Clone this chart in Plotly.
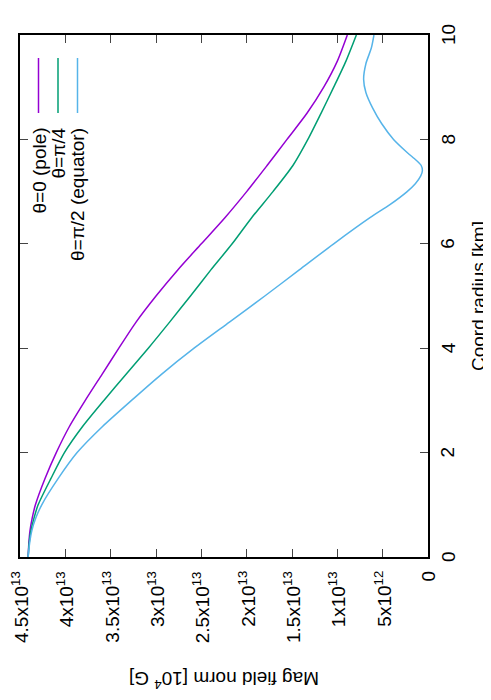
import plotly.graph_objects as go

# Magnetic field norm (units of 1e13) vs coordinate radius (km)
R_STEP = [0, 0.25, 0.5, 0.75, 1.0, 1.5, 2.0, 2.5, 3.0, 3.5, 4.0, 4.5, 5.0, 5.5,
          6.0, 6.5, 7.0, 7.5, 8.0, 8.5, 9.0, 9.5, 10]
B_POLE = [4.41, 4.403, 4.39, 4.365, 4.33, 4.225, 4.10, 3.955, 3.78, 3.595, 3.41, 3.22,
          3.00, 2.76, 2.50, 2.24, 2.00, 1.775, 1.555, 1.335, 1.15, 1.00, 0.89]
B_DIAG = [4.41, 4.40, 4.38, 4.345, 4.30, 4.16, 4.01, 3.81, 3.575, 3.33, 3.085, 2.85,
          2.62, 2.395, 2.16, 1.945, 1.71, 1.49, 1.325, 1.18, 1.04, 0.905, 0.79]

R_EQ = [0, 0.25, 0.5, 0.75, 1.0, 1.5, 2.0, 2.5, 3.0, 3.5, 4.0, 4.5, 5.0, 5.5, 6.0,
        6.5, 6.75, 7.0, 7.15, 7.3, 7.4, 7.5, 7.6, 7.75, 8.0, 8.3, 8.6, 8.9, 9.15,
        9.45, 9.75, 10]
B_EQ = [4.41, 4.395, 4.37, 4.325, 4.26, 4.08, 3.87, 3.59, 3.27, 2.94, 2.58, 2.19, 1.80,
        1.42, 1.04, 0.64, 0.42, 0.23, 0.14, 0.08, 0.062, 0.075, 0.13, 0.23, 0.38, 0.51,
        0.61, 0.685, 0.71, 0.685, 0.625, 0.596]

FIELD_TICKS = [0, 0.5e13, 1e13, 1.5e13, 2e13, 2.5e13, 3e13, 3.5e13, 4e13, 4.5e13]
FIELD_LABELS = ["0", "5x10<sup>12</sup>", "1x10<sup>13</sup>", "1.5x10<sup>13</sup>",
                "2x10<sup>13</sup>", "2.5x10<sup>13</sup>", "3x10<sup>13</sup>",
                "3.5x10<sup>13</sup>", "4x10<sup>13</sup>", "4.5x10<sup>13</sup>"]
RADIUS_TICKS = [0, 2, 4, 6, 8, 10]

SERIES = [
    ("θ=0 (pole)", R_STEP, B_POLE, "#9400d3"),
    ("θ=π/4", R_STEP, B_DIAG, "#009e73"),
    ("θ=π/2 (equator)", R_EQ, B_EQ, "#56b4e9"),
]

FONT = "Liberation Sans, Arial, sans-serif"
# the page body has an 8px margin, so the figure is shrunk and shifted to suit
OFF = 8
W, H = 491 - OFF, 700 - OFF
FX0, FX1, FY0, FY1 = 20, 428, 35, 557  # frame in window pixels
L, T = FX0 - OFF, FY0 - OFF
R, B = W - L - (FX1 - FX0), H - T - (FY1 - FY0)


def px(x):
    return (x - FX0) / (FX1 - FX0)


def py(y):
    return (FY1 - y) / (FY1 - FY0)


fig = go.Figure()
for name, r, b, color in SERIES:
    fig.add_trace(
        go.Scatter(
            x=[v * 1e13 for v in b],
            y=r,
            mode="lines",
            name=name,
            line=dict(color=color, width=1.5, shape="spline", smoothing=0.7),
            showlegend=False,
        )
    )

txt = dict(size=19, color="black", family=FONT)

# rotated key, drawn by hand (samples on top, text right-justified below)
shapes = []
annotations = []
key_x = [38.5, 58, 77.5]
for (name, _, _, color), kx in zip(SERIES, key_x):
    shapes.append(dict(type="line", xref="paper", yref="paper",
                       x0=px(kx), x1=px(kx), y0=py(58), y1=py(113),
                       line=dict(color=color, width=1.5)))
    annotations.append(dict(x=px(kx), y=py(126), xref="paper", yref="paper",
                            text=name, textangle=-90, showarrow=False,
                            xanchor="center", yanchor="top", font=txt))

# field tick labels, rotated, hanging below the frame
for val, lab in zip(FIELD_TICKS, FIELD_LABELS):
    annotations.append(dict(x=val, y=py(569), xref="x", yref="paper",
                            text=lab, textangle=-90, showarrow=False,
                            xanchor="center", yanchor="top", font=txt))

# radius tick labels, rotated, right of the frame
for val in RADIUS_TICKS:
    annotations.append(dict(x=px(448), y=val, xref="paper", yref="y",
                            text=str(val), textangle=-90, showarrow=False,
                            xanchor="center", yanchor="middle", font=txt))

annotations.append(dict(x=px(224), y=py(680), xref="paper", yref="paper",
                        text="Mag field norm [10<sup>4</sup> G]", textangle=180,
                        showarrow=False, xanchor="center", yanchor="middle", font=txt))
annotations.append(dict(x=px(478), y=py(296), xref="paper", yref="paper",
                        text="Coord radius [km]", textangle=-90,
                        showarrow=False, xanchor="center", yanchor="middle", font=txt))

axis_common = dict(
    showgrid=False, zeroline=False, showline=True, linecolor="black", linewidth=1.5,
    mirror="allticks", ticks="inside", ticklen=8, tickwidth=1, tickcolor="#444",
    showticklabels=False, automargin=False,
)

fig.update_layout(
    width=W, height=H,
    margin=dict(l=L, r=R, t=T, b=B),
    paper_bgcolor="white", plot_bgcolor="white",
    xaxis=dict(range=[4.5e13, 0], tickmode="array", tickvals=FIELD_TICKS, **axis_common),
    yaxis=dict(range=[0, 10], side="right", tickmode="array", tickvals=RADIUS_TICKS,
               **axis_common),
    shapes=shapes,
    annotations=annotations,
)

fig.write_html("out.html")
